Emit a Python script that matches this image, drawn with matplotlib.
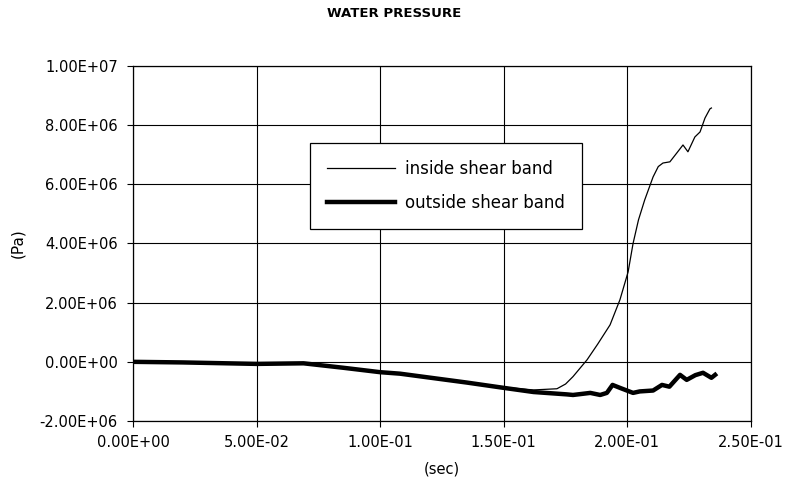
import matplotlib
matplotlib.use("Agg")
import matplotlib.pyplot as plt
from matplotlib.ticker import FuncFormatter

# time (sec) and water pressure (Pa)
t_outside = [0.0, 0.02, 0.05, 0.069, 0.085, 0.1, 0.108, 0.135, 0.15, 0.162,
             0.1755, 0.178, 0.185, 0.189, 0.1917, 0.194, 0.197, 0.2023,
             0.205, 0.2104, 0.214, 0.217, 0.2213, 0.224, 0.2275, 0.2306,
             0.234, 0.2355]
p_outside = [0.0, -0.02e6, -0.07e6, -0.05e6, -0.2e6, -0.35e6, -0.4e6,
             -0.7e6, -0.88e6, -1.02e6, -1.1e6, -1.12e6, -1.05e6, -1.12e6,
             -1.05e6, -0.78e6, -0.88e6, -1.05e6, -1.0e6, -0.97e6, -0.78e6,
             -0.84e6, -0.44e6, -0.61e6, -0.45e6, -0.37e6, -0.54e6, -0.44e6]

t_inside = [0.0, 0.02, 0.05, 0.069, 0.085, 0.1, 0.108, 0.135, 0.15, 0.162,
            0.1715, 0.175, 0.178, 0.181, 0.1837, 0.188, 0.193, 0.197,
            0.2003, 0.2023, 0.2045, 0.207, 0.2104, 0.2125, 0.2144, 0.2172,
            0.22, 0.2225, 0.2245, 0.2273, 0.2294, 0.2314, 0.2334, 0.234]
p_inside = [0.0, -0.02e6, -0.07e6, -0.05e6, -0.2e6, -0.35e6, -0.4e6,
            -0.7e6, -0.86e6, -0.95e6, -0.91e6, -0.75e6, -0.5e6, -0.2e6,
            0.07e6, 0.6e6, 1.25e6, 2.1e6, 3.04e6, 4.0e6, 4.8e6, 5.47e6,
            6.25e6, 6.6e6, 6.72e6, 6.76e6, 7.06e6, 7.33e6, 7.1e6, 7.6e6,
            7.77e6, 8.24e6, 8.55e6, 8.58e6]

x_ticks = [0.0, 0.05, 0.10, 0.15, 0.20, 0.25]
y_ticks = [-2e6, 0, 2e6, 4e6, 6e6, 8e6, 1e7]

plt.rcParams["font.family"] = ["DejaVu Sans"]


def sci(v, _pos):
    return "%.2E" % v


fig = plt.figure(figsize=(7.88, 4.92), dpi=100)
ax = fig.add_axes([0.1688, 0.1443, 0.953 - 0.1688, 0.8659 - 0.1443])

ax.plot(t_inside, p_inside, color="black", lw=0.9, label="inside shear band")
ax.plot(t_outside, p_outside, color="black", lw=3.2, label="outside shear band")

ax.set_xlim(0, 0.25)
ax.set_ylim(-2e6, 1e7)
ax.set_xticks(x_ticks)
ax.set_yticks(y_ticks)
ax.xaxis.set_major_formatter(FuncFormatter(sci))
ax.yaxis.set_major_formatter(FuncFormatter(sci))
ax.tick_params(axis="both", labelsize=10.5, length=4, width=0.8, direction="out")
ax.tick_params(axis="x", pad=6)
ax.tick_params(axis="y", pad=7)
ax.grid(True, color="black", lw=0.8)
ax.set_axisbelow(True)
for sp in ax.spines.values():
    sp.set_linewidth(0.9)

ax.set_xlabel("(sec)", fontsize=10.5, labelpad=8)
ax.set_ylabel("(Pa)", fontsize=11, labelpad=10)
fig.suptitle("WATER PRESSURE", fontsize=9.5, fontweight="bold", y=0.985)

leg = ax.legend(loc="upper left", bbox_to_anchor=((310 - 133) / 618, (421 - 143) / 355),
                frameon=True, fancybox=False, edgecolor="black", fontsize=12,
                handlelength=4.1, labelspacing=1.0, borderpad=1.0, handletextpad=0.6,
                borderaxespad=0)
leg.get_frame().set_linewidth(0.9)
leg.get_frame().set_facecolor("white")
leg.get_frame().set_alpha(1)

fig.savefig("out.png", dpi=100)
